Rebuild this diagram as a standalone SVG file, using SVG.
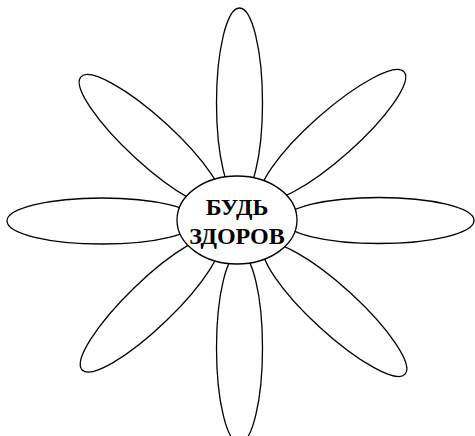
<svg xmlns="http://www.w3.org/2000/svg" width="475" height="436" viewBox="0 0 475 436">
  <style>
    .petal { fill: #ffffff; stroke: #000000; stroke-width: 1.3; }
    .core { fill: #ffffff; stroke: #000000; stroke-width: 1.3; }
    .label { font-family: "Liberation Serif", "Times New Roman", serif; font-weight: bold; font-size: 24px; fill: #000000; text-anchor: middle; }
  </style>
  <rect width="475" height="436" fill="#ffffff"/>
  <g id="petals">
    <g id="petal-top"><ellipse class="petal" cx="239.5" cy="103" rx="23" ry="95"/></g>
    <g id="petal-bottom"><ellipse class="petal" cx="239.5" cy="348" rx="23" ry="95"/></g>
    <g id="petal-left"><ellipse class="petal" cx="102" cy="221" rx="95" ry="23"/></g>
    <g id="petal-right"><ellipse class="petal" cx="379" cy="220.5" rx="95" ry="23"/></g>
    <g id="petal-upper-left"><ellipse class="petal" cx="0" cy="0" rx="95" ry="23" transform="translate(151 141) rotate(42.5)"/></g>
    <g id="petal-upper-right"><ellipse class="petal" cx="0" cy="0" rx="95" ry="23" transform="translate(333 135) rotate(-41.6)"/></g>
    <g id="petal-lower-left"><ellipse class="petal" cx="0" cy="0" rx="95" ry="23" transform="translate(150.5 304) rotate(-44)"/></g>
    <g id="petal-lower-right"><ellipse class="petal" cx="0" cy="0" rx="95" ry="23" transform="translate(335 310) rotate(42.5)"/></g>
  </g>
  <g id="connectors"></g>
  <g id="center">
    <ellipse class="core" cx="237" cy="220" rx="60" ry="44"/>
    <text class="label" x="237" y="215">БУДЬ</text>
    <text class="label" x="237" y="244">ЗДОРОВ</text>
  </g>
</svg>
